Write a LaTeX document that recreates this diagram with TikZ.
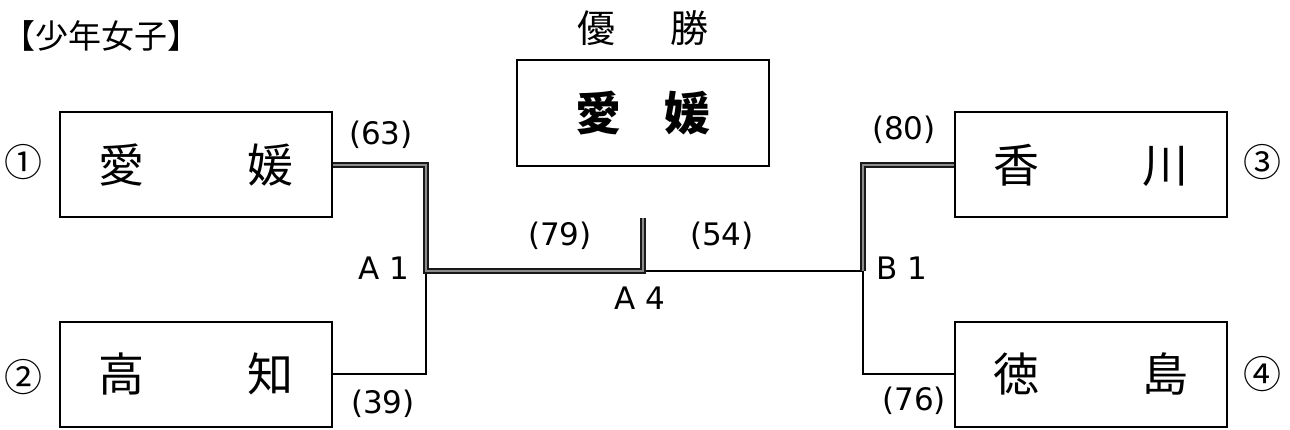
\documentclass[tikz,border=0pt]{standalone}
\usepackage{fontspec}
\newfontfamily\jp{Noto Sans CJK JP}
\newfontfamily\lab{DejaVu Sans}
\begin{document}
\begin{tikzpicture}[x=1pt,y=-1pt,
  team/.style={draw,line width=2pt,minimum width=272pt,minimum height=105pt,inner sep=0pt,font=\jp\fontsize{46}{50}\selectfont},
  champbox/.style={draw,line width=2pt,minimum width=252pt,minimum height=106pt,inner sep=0pt,font=\jp\bfseries\fontsize{46}{50}\selectfont},
  score/.style={font=\lab\fontsize{31}{34}\selectfont,inner sep=0pt},
  seed/.style={font=\jp\fontsize{38}{40}\selectfont,inner sep=0pt},
  lose/.style={line width=2pt,line join=miter},
  win/.style={draw=black!90,line width=1.3pt,double=black!45,double distance=2.6pt,line join=miter}]
\useasboundingbox (0,0) rectangle (1290,430);
\fill[white] (0,0) rectangle (1290,430);
% title
\node[font=\jp\fontsize{33}{36}\selectfont,inner sep=0pt] (title) at (101,36) {【少年女子】};
\node[font=\jp\fontsize{38}{42}\selectfont,inner sep=0pt] (yusho) at (643,28) {優\hspace{55pt}勝};
\node[champbox] (champ) at (643,113) {愛\hspace{44pt}媛};
% teams
\node[team] (ehime) at (196,165) {愛\hspace{104pt}媛};
\node[team] (kochi) at (196,374) {高\hspace{104pt}知};
\node[team] (kagawa) at (1091,165) {香\hspace{104pt}川};
\node[team] (tokushima) at (1091,374) {徳\hspace{104pt}島};
% seeds
\node[seed] (s1) at (24,162) {①};
\node[seed] (s2) at (24,377) {②};
\node[seed] (s3) at (1262,162) {③};
\node[seed] (s4) at (1262,374) {④};
% junctions
\coordinate (A1) at (426,271);
\coordinate (A4) at (643,271);
\coordinate (A4top) at (643,218);
\coordinate (B1) at (863,271);
% losing lines
\draw[lose] (kochi.east) -| (A1);
\draw[lose] (tokushima.west) -| (B1);
\draw[lose] (A4) -- (B1);
% winning lines
\draw[win] (ehime.east) -| (A1) -- (A4) -- (A4top);
\draw[win] (kagawa.west) -| (B1);
% scores
\node[score] (sc63) at (381,135) {(63)};
\node[score] (sc39) at (383,404) {(39)};
\node[score] (sc80) at (904,130) {(80)};
\node[score] (sc76) at (914,401) {(76)};
\node[score] (sc79) at (560,236) {(79)};
\node[score] (sc54) at (722,236) {(54)};
\node[score] (la1) at (384,268) {A 1};
\node[score] (la4) at (640,298) {A 4};
\node[score] (lb1) at (902,268) {B 1};
\end{tikzpicture}
\end{document}
